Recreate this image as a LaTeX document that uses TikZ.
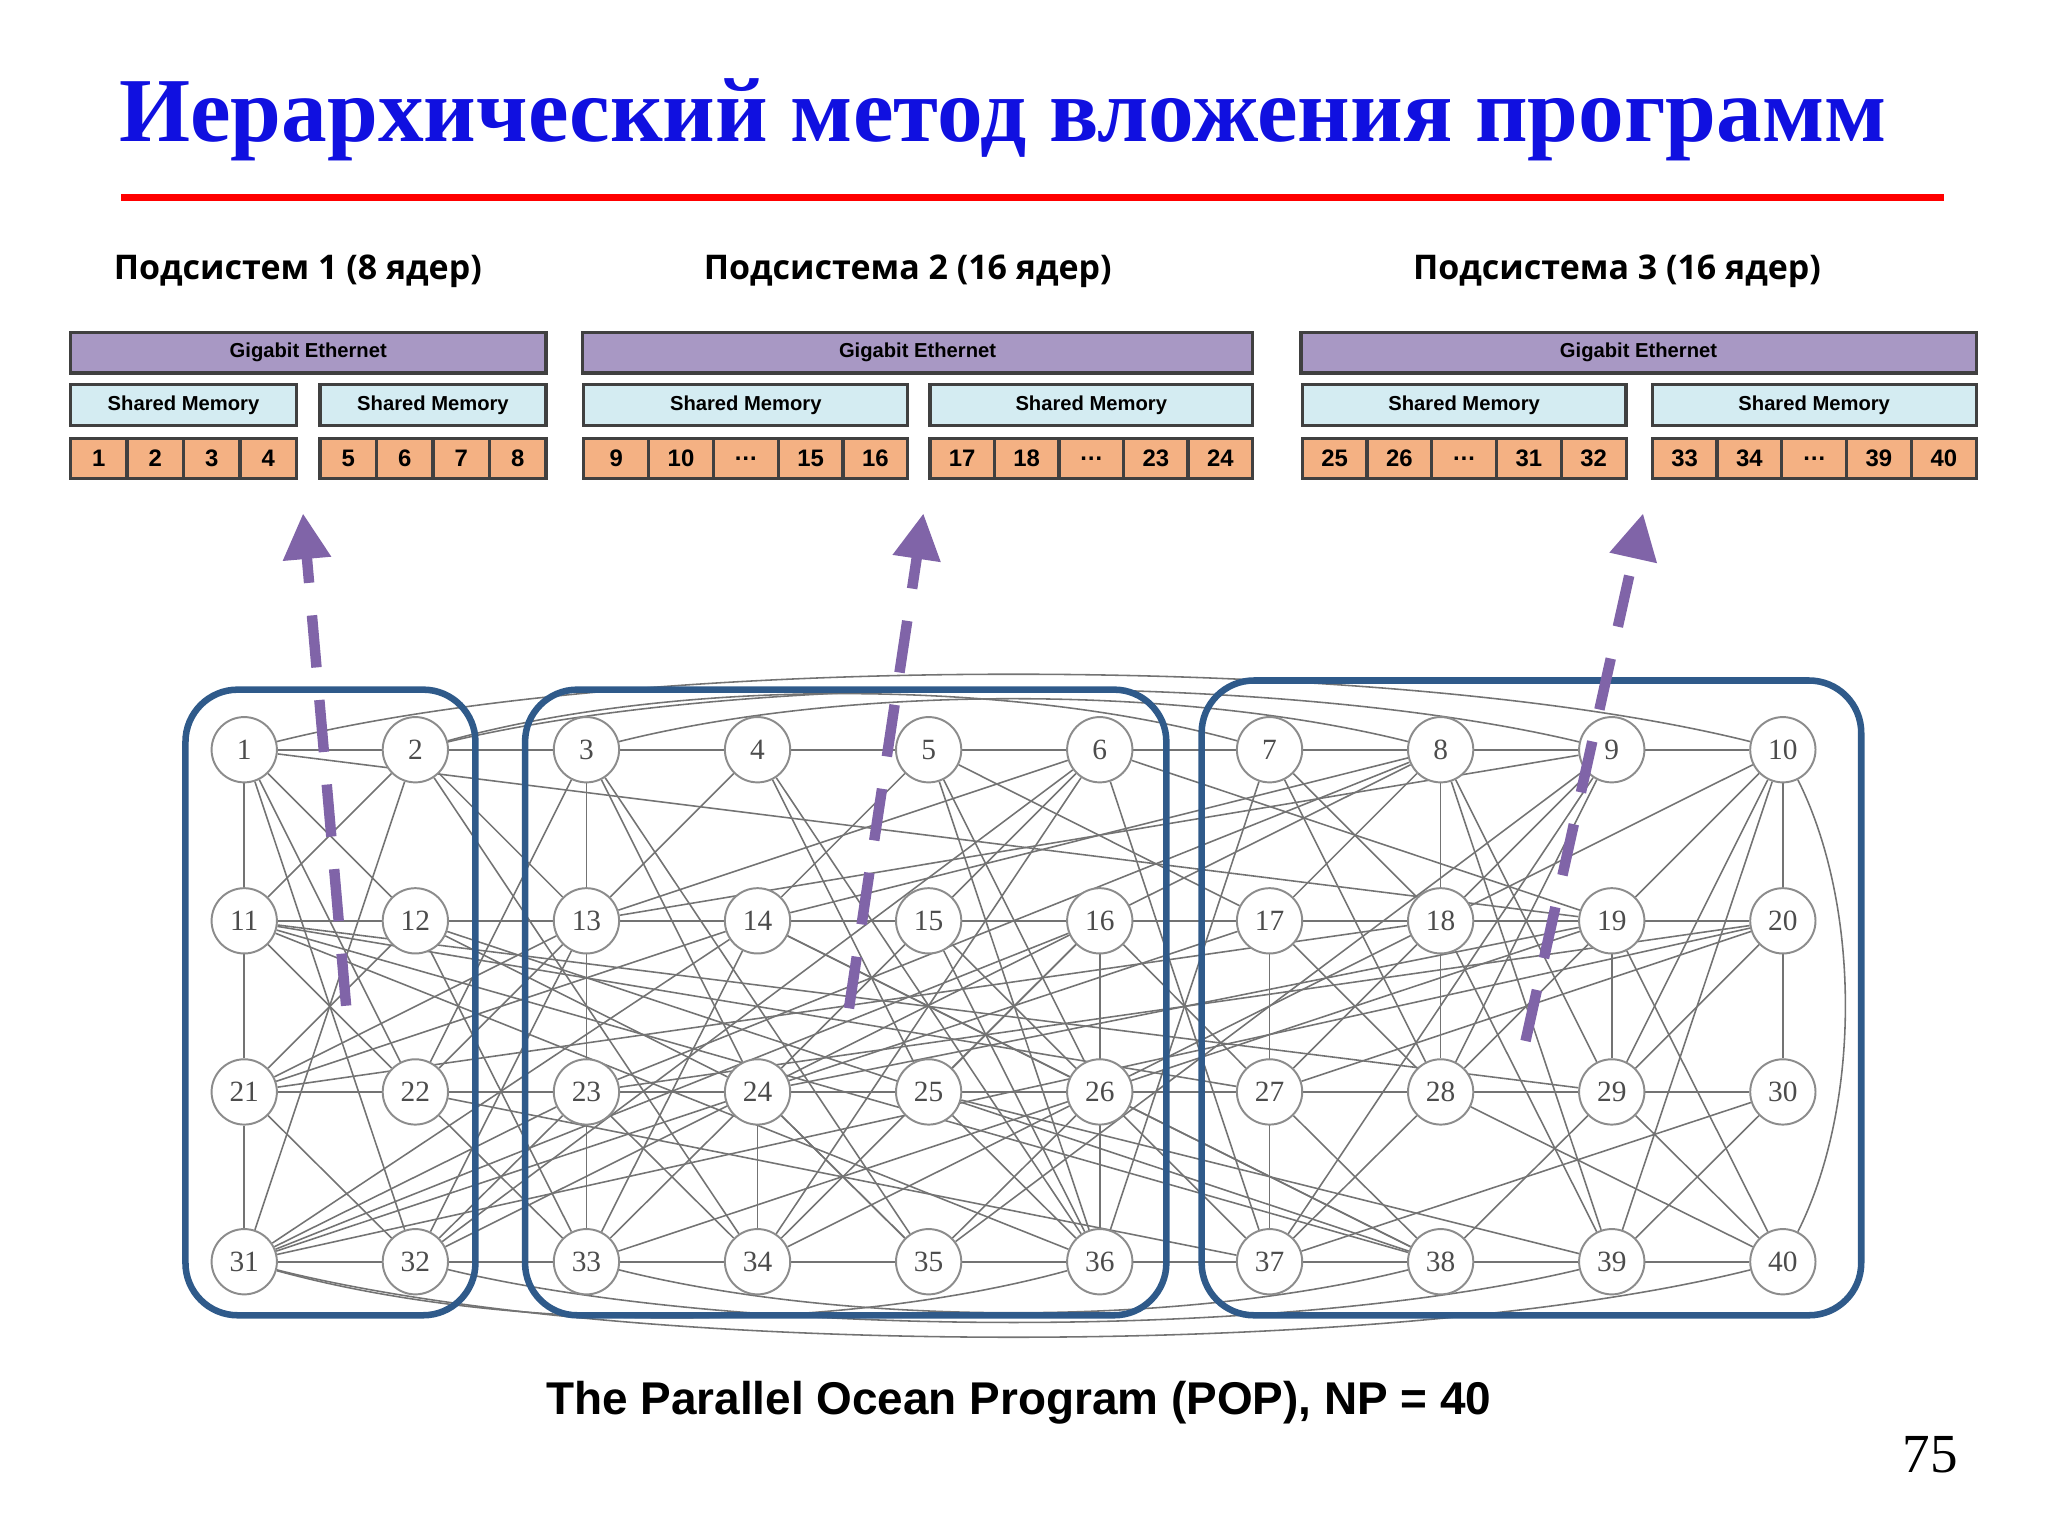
\documentclass[tikz,border=0pt]{standalone}
\usepackage{fontspec}
\setmainfont{Liberation Serif}
\newfontfamily\headfont{Open Sans}
\newfontfamily\boxfont{Liberation Sans}
\usetikzlibrary{arrows.meta,backgrounds}
\definecolor{titleblue}{HTML}{1010E0}
\definecolor{ethpurple}{HTML}{A898C4}
\definecolor{smblue}{HTML}{D4ECF2}
\definecolor{coreorange}{HTML}{F4B183}
\definecolor{frameblue}{HTML}{2F5A8A}
\definecolor{arrowpurple}{HTML}{8064A8}
\tikzset{
 box/.style={draw=black!75,line width=0.25mm,inner sep=0pt,outer sep=0pt,minimum height=3.1mm,font=\boxfont\bfseries\fontsize{4.4}{5}\selectfont},
 eth/.style={box,fill=ethpurple},
 sm/.style={box,fill=smblue},
 core/.style={box,fill=coreorange,font=\boxfont\bfseries\fontsize{5.2}{6}\selectfont},
 gnode/.style={circle,draw=black!45,fill=white,line width=0.15mm,minimum size=5mm,inner sep=0pt,font=\fontsize{6.4}{7}\selectfont\color{black!70}},
 gedge/.style={draw=black!55,line width=0.12mm},
 frame/.style={draw=frameblue,line width=0.5mm,rounded corners=4mm},
 uparrow/.style={draw=arrowpurple,line width=0.8mm,dash pattern=on 4mm off 2.5mm,-{Triangle[length=3.5mm,width=3.5mm]}},
 head/.style={font=\headfont\bfseries\fontsize{7.4}{9}\selectfont}
}
\newcommand\cellrow[4]{\foreach \t [count=\i] in {#3}{\node[core,minimum width={#2*0.1mm}] (cr#4-\i) at ({#1+(\i-0.5)*#2},351) {\t};}}
\begin{document}
\begin{tikzpicture}[x=0.1mm,y=-0.1mm]
\useasboundingbox (0,0) rectangle (1568,1176);
\node[font=\bfseries\fontsize{19.9}{24}\selectfont,text=titleblue] (title) at (768,92) {Иерархический метод вложения программ};
\draw[red,line width=0.5mm] (93,151) -- (1488,151);
\node[head] (h1) at (228,208) {Подсистем 1 (8 ядер)};
\node[head] (h2) at (695,208) {Подсистема 2 (16 ядер)};
\node[head] (h3) at (1238,208) {Подсистема 3 (16 ядер)};
% ethernet
\node[eth,minimum width=36.4mm] (e1) at (236,270) {Gigabit Ethernet};
\node[eth,minimum width=51.3mm] (e2) at (702.5,270) {Gigabit Ethernet};
\node[eth,minimum width=51.7mm] (e3) at (1254.5,270) {Gigabit Ethernet};
\node[sm,minimum width=17.3mm] (s1) at (140.5,310) {Shared Memory};
\node[sm,minimum width=17.3mm] (s2) at (331.5,310) {Shared Memory};
\node[sm,minimum width=24.8mm] (s3) at (571,310) {Shared Memory};
\node[sm,minimum width=24.7mm] (s4) at (835.5,310) {Shared Memory};
\node[sm,minimum width=24.8mm] (s5) at (1121,310) {Shared Memory};
\node[sm,minimum width=24.8mm] (s6) at (1389,310) {Shared Memory};
\cellrow{54}{43.25}{1,2,3,4}{a}
\cellrow{245}{43.25}{5,6,7,8}{b}
\cellrow{447}{49.6}{9,10,\dots,15,16}{c}
\cellrow{712}{49.4}{17,18,\dots,23,24}{d}
\cellrow{997}{49.6}{25,26,\dots,31,32}{e}
\cellrow{1265}{49.6}{33,34,\dots,39,40}{f}
% graph nodes
\foreach \r [count=\j from 0] in {574,705,836,966}{
 \foreach \c [count=\i] in {187,318,449,580,711,842,972,1103,1234,1365}{
  \pgfmathtruncatemacro\n{\j*10+\i}
  \node[gnode] (n\n) at (\c,\r) {\n};
 }}
\begin{scope}[on background layer]
\foreach \a/\b in {1/2,2/3,3/4,4/5,5/6,6/7,7/8,8/9,9/10,11/12,12/13,13/14,14/15,15/16,16/17,17/18,18/19,19/20,21/22,22/23,23/24,24/25,25/26,26/27,27/28,28/29,29/30,31/32,32/33,33/34,34/35,35/36,36/37,37/38,38/39,39/40,
1/11,11/21,21/31,3/13,13/23,23/33,10/20,8/18,18/28,19/29,24/34,
1/12,1/22,1/32,2/11,2/31,11/22,11/29,11/38,12/21,21/32,21/13,21/14,31/14,31/23,31/16,32/13,32/6,3/24,3/33,4/13,4/25,4/36,5/14,5/26,5/36,6/13,6/15,6/34,13/20,13/9,14/8,14/26,15/24,15/36,16/25,16/36,23/20,23/8,24/35,24/33,26/35,26/36,33/14,34/23,34/16,35/24,36/25,7/18,7/28,8/17,8/29,8/39,9/18,9/28,9/37,10/19,10/29,10/39,17/28,17/37,18/27,18/39,19/28,19/40,20/29,20/30,27/38,27/20,28/37,28/40,29/38,29/40,30/39,37/30,12/33,12/24,22/33,22/13,22/3,32/23,2/13,1/19,11/27,12/16,21/18,31/17,32/40,3/7,4/9,5/17,6/19,15/37,16/27,25/39,26/38,35/9,36/7,34/10,33/19,23/30,24/19,11/36,21/29,31/20,32/8,2/34,3/35,12/38,22/37,6/37,14/38}
  {\draw[gedge] (n\a) -- (n\b);}
\draw[gedge] (n1) .. controls +(300,-75) and +(-300,-75) .. (n10);
\draw[gedge] (n2) .. controls +(250,-60) and +(-250,-60) .. (n9);
\draw[gedge] (n3) .. controls +(200,-50) and +(-200,-50) .. (n8);
\draw[gedge] (n2) .. controls +(200,-55) and +(-200,-55) .. (n7);
\draw[gedge] (n31) .. controls +(300,75) and +(-300,75) .. (n40);
\draw[gedge] (n32) .. controls +(250,60) and +(-250,60) .. (n39);
\draw[gedge] (n33) .. controls +(200,50) and +(-200,50) .. (n38);
\draw[gedge] (n31) .. controls +(200,55) and +(-200,55) .. (n36);
\draw[gedge] (n10) .. controls +(60,120) and +(60,-120) .. (n40);
\end{scope}
% frames
\draw[frame] (142,528) rectangle (364,1007);
\draw[frame] (402,528) rectangle (893,1007);
\draw[frame] (920,521) rectangle (1425,1007);
% arrows
\coordinate (a1s) at (265,770); \coordinate (a1e) at (232,393);
\coordinate (a2s) at (650,772); \coordinate (a2e) at (707,393);
\coordinate (a3s) at (1168,797); \coordinate (a3e) at (1258,393);
\draw[uparrow] (a1s) -- (a1e);
\draw[uparrow] (a2s) -- (a2e);
\draw[uparrow] (a3s) -- (a3e);
\node[font=\boxfont\bfseries\fontsize{10}{12}\selectfont] (cap) at (780,1074) {The Parallel Ocean Program (POP), NP = 40};
\node[font=\fontsize{12}{14}\selectfont] (pg) at (1478,1114) {75};
\end{tikzpicture}
\end{document}
